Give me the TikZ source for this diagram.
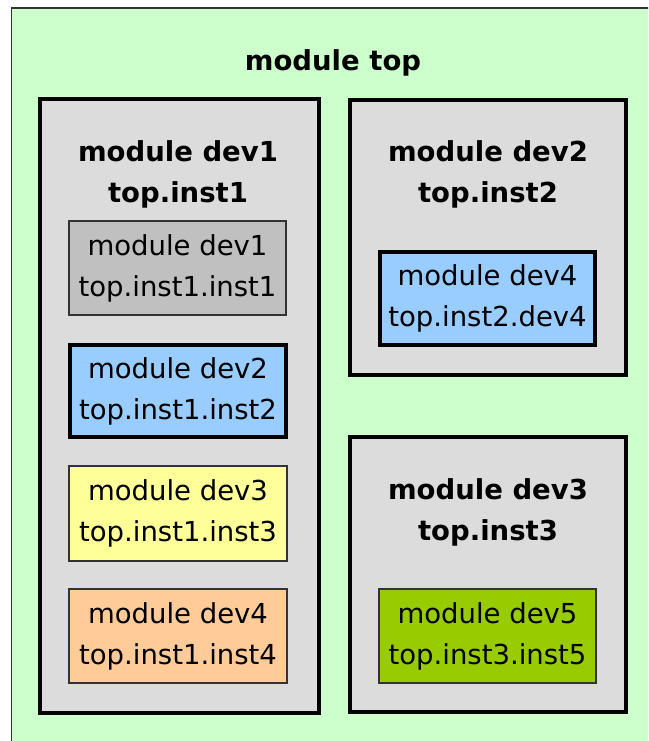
\documentclass[tikz,border=0pt]{standalone}
\usepackage{fontspec}
\setmainfont{DejaVu Sans}
\definecolor{topgreen}{HTML}{CCFFCC}
\definecolor{boxgrey}{HTML}{DCDCDC}
\definecolor{cgrey}{HTML}{C0C0C0}
\definecolor{cblue}{HTML}{99CCFF}
\definecolor{cyellow}{HTML}{FFFF99}
\definecolor{corange}{HTML}{FFCC99}
\definecolor{cgreen}{HTML}{99CC00}
\begin{document}
\begin{tikzpicture}[x=1pt,y=-1pt,
  txt/.style={font=\fontsize{27.5}{41}\selectfont, align=center, inner sep=0pt, text=black},
  ttl/.style={txt, font=\fontsize{27.5}{41}\selectfont\bfseries},
  bigbox/.style={draw=black, line width=4.3pt, fill=boxgrey, inner sep=0pt},
  thinbox/.style={draw=black!80, line width=1.8pt, inner sep=0pt, txt},
  thickbox/.style={draw=black, line width=4pt, inner sep=0pt, txt}]
\clip (0,0) rectangle (648,741);
\useasboundingbox (0,0) rectangle (648,741);
\fill[white] (0,0) rectangle (648,741);
% outer module
\node[draw=black!80, line width=1.3pt, fill=topgreen, anchor=north west,
      minimum width=700pt, minimum height=800pt, inner sep=0pt] (top) at (10.5,7.5) {};
\node[ttl, anchor=base] (toptitle) at (333,71) {module top};
% big boxes
\node[bigbox, minimum width=279pt, minimum height=614pt] (inst1) at (179.5,406) {};
\node[bigbox, minimum width=276pt, minimum height=275pt] (inst2) at (488,237.5) {};
\node[bigbox, minimum width=276pt, minimum height=275pt] (inst3) at (488,574.5) {};
\node[ttl] (t1) at (178,174) {module dev1\\top.inst1};
\node[ttl] (t2) at (488,174) {module dev2\\top.inst2};
\node[ttl] (t3) at (488,512) {module dev3\\top.inst3};
% inner boxes
\node[thinbox, fill=cgrey, minimum width=217pt, minimum height=94pt] (i11) at (177.5,268) {module dev1\\top.inst1.inst1};
\node[thickbox, fill=cblue, minimum width=216pt, minimum height=92pt] (i12) at (178,391) {module dev2\\top.inst1.inst2};
\node[thinbox, fill=cyellow, minimum width=218pt, minimum height=95pt] (i13) at (178,513.5) {module dev3\\top.inst1.inst3};
\node[thinbox, fill=corange, minimum width=218pt, minimum height=94pt] (i14) at (178,636) {module dev4\\top.inst1.inst4};
\node[thickbox, fill=cblue, minimum width=215pt, minimum height=93pt] (i24) at (487.5,298.5) {module dev4\\top.inst2.dev4};
\node[thinbox, fill=cgreen, minimum width=217pt, minimum height=94pt] (i35) at (487.5,636) {module dev5\\top.inst3.inst5};
\end{tikzpicture}
\end{document}
